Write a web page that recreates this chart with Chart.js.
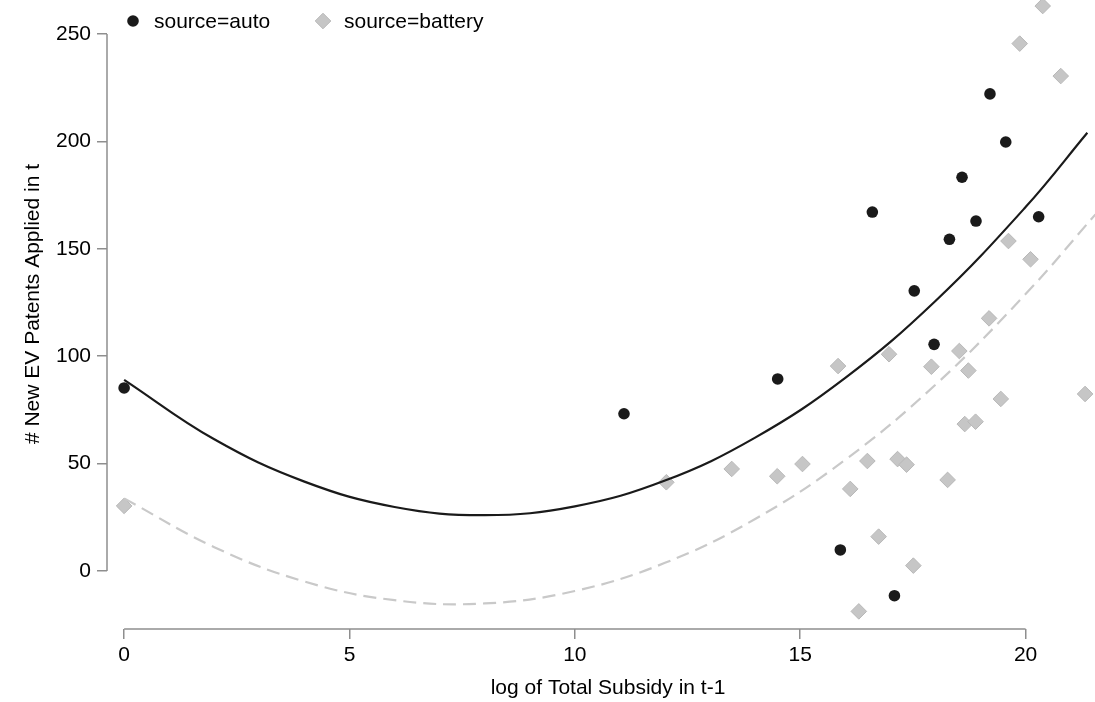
<!DOCTYPE html>
<html>
<head>
<meta charset="utf-8">
<script src="https://cdn.jsdelivr.net/npm/chart.js@4/dist/chart.umd.min.js"></script>
<style>
  html, body { margin: 0; padding: 0; background: #fff; }
  #wrap { width: 1095px; height: 702px; }
</style>
</head>
<body>
<div id="wrap"><canvas id="scatterChart" width="1095" height="702"></canvas></div>
<script>
// points
const autoX = [0, 11.09, 14.5, 15.89, 16.6, 17.09, 17.53, 17.97, 18.31, 18.59, 18.9, 19.21, 19.56, 20.29];
const autoY = [85.2, 73.2, 89.4, 9.8, 167.1, -11.5, 130.4, 105.5, 154.4, 183.3, 162.9, 222.1, 199.7, 164.9];

const batteryX = [0, 12.03, 13.48, 14.49, 15.05, 15.84, 16.11, 16.3, 16.49, 16.74, 16.97, 17.16, 17.36, 17.51,
                  17.91, 18.27, 18.53, 18.65, 18.73, 18.89, 19.19, 19.45, 19.62, 19.87, 20.11, 20.38, 20.78, 21.32];
const batteryY = [30.3, 41.3, 47.5, 44.1, 49.8, 95.4, 38.2, -18.8, 51.2, 16.0, 100.9, 52.1, 49.5, 2.5,
                  95.1, 42.4, 102.4, 68.4, 93.3, 69.5, 117.6, 80.1, 153.6, 245.5, 145.1, 263.0, 230.4, 82.4];

// fitted curves, read at a few x positions
const autoFitX = [0, 2, 4, 6, 8, 10, 12, 14, 16, 18, 20, 21.37];
const autoFitY = [89, 61.3, 41.6, 29.8, 26.0, 30.1, 42.1, 62.1, 89.9, 125.7, 169.4, 204];
const batteryFitX = [0, 2, 4, 6, 8, 10, 12, 14, 16, 18, 20, 21.55];
const batteryFitY = [33.8, 11.1, -4.9, -13.6, -15.1, -9.3, 3.8, 24.2, 51.8, 86.7, 128.9, 166];

const xTicks = [0, 5, 10, 15, 20];
const yTicks = [0, 50, 100, 150, 200, 250];

const legendLabels = ['source=auto', 'source=battery'];
const xTitle = 'log of Total Subsidy in t-1';
const yTitle = '# New EV Patents Applied in t';

const FONT = '21px "Liberation Sans", Arial, sans-serif';
const AXIS_COLOR = '#8e8e8e';
const AUTO_COLOR = '#1a1a1a';
const BATT_FILL = '#c6c6c6';
const BATT_LINE = '#c9c9c9';

function pairs(xs, ys) {
    return xs.map((x, i) => ({ x: x, y: ys[i] }));
}

// Stata-like axes, titles and legend
const decorPlugin = {
    id: 'decor',
    afterDraw(chart) {
        const ctx = chart.ctx;
        const xs = chart.scales.x;
        const ys = chart.scales.y;
        const area = chart.chartArea;
        ctx.save();

        ctx.strokeStyle = AXIS_COLOR;
        ctx.lineWidth = 1.5;
        ctx.beginPath();
        ctx.moveTo(area.left, ys.getPixelForValue(yTicks[0]));
        ctx.lineTo(area.left, ys.getPixelForValue(yTicks[yTicks.length - 1]));
        ctx.moveTo(xs.getPixelForValue(xTicks[0]), area.bottom);
        ctx.lineTo(xs.getPixelForValue(xTicks[xTicks.length - 1]), area.bottom);
        ctx.stroke();

        ctx.fillStyle = '#000';
        ctx.font = FONT;
        ctx.textAlign = 'center';
        ctx.textBaseline = 'middle';
        ctx.fillText(xTitle, 608, 688);

        ctx.save();
        ctx.translate(33, 304);
        ctx.rotate(-Math.PI / 2);
        ctx.fillText(yTitle, 0, 0);
        ctx.restore();

        // legend
        ctx.textAlign = 'left';
        ctx.fillStyle = AUTO_COLOR;
        ctx.beginPath();
        ctx.arc(133, 21, 5.8, 0, Math.PI * 2);
        ctx.fill();
        ctx.fillStyle = '#000';
        ctx.fillText(legendLabels[0], 154, 22);

        ctx.fillStyle = BATT_FILL;
        ctx.strokeStyle = '#b8b8b8';
        ctx.lineWidth = 1;
        ctx.beginPath();
        ctx.moveTo(323, 21 - 7.8);
        ctx.lineTo(323 + 7.8, 21);
        ctx.lineTo(323, 21 + 7.8);
        ctx.lineTo(323 - 7.8, 21);
        ctx.closePath();
        ctx.fill();
        ctx.stroke();
        ctx.fillStyle = '#000';
        ctx.fillText(legendLabels[1], 344, 22);

        ctx.restore();
    }
};

Chart.defaults.font.family = '"Liberation Sans", Arial, sans-serif';
Chart.defaults.font.size = 21;
Chart.defaults.color = '#000';

const ctx = document.getElementById('scatterChart').getContext('2d');

new Chart(ctx, {
    type: 'scatter',
    data: {
        datasets: [
            {
                label: 'auto fit',
                data: pairs(autoFitX, autoFitY),
                showLine: true,
                borderColor: AUTO_COLOR,
                borderWidth: 2.2,
                pointRadius: 0,
                tension: 0.4,
                order: 0
            },
            {
                label: 'battery fit',
                data: pairs(batteryFitX, batteryFitY),
                showLine: true,
                borderColor: BATT_LINE,
                borderWidth: 2.2,
                borderDash: [13, 7],
                pointRadius: 0,
                tension: 0.4,
                order: 1
            },
            {
                label: legendLabels[1],
                data: pairs(batteryX, batteryY),
                pointStyle: 'rectRot',
                pointRadius: 7.8,
                backgroundColor: BATT_FILL,
                borderColor: '#b8b8b8',
                borderWidth: 1,
                order: 2
            },
            {
                label: legendLabels[0],
                data: pairs(autoX, autoY),
                pointStyle: 'circle',
                pointRadius: 5.8,
                backgroundColor: AUTO_COLOR,
                borderColor: AUTO_COLOR,
                borderWidth: 0,
                order: 3
            }
        ]
    },
    options: {
        responsive: false,
        animation: false,
        clip: false,
        layout: { padding: 0, autoPadding: false },
        plugins: {
            legend: { display: false },
            tooltip: { enabled: false }
        },
        scales: {
            x: {
                type: 'linear',
                min: -0.38,
                max: 21.54,
                afterFit: s => {
                    s.height = 73;
                    s.paddingLeft = 0;
                    s.paddingRight = 0;
                },
                afterBuildTicks: s => { s.ticks = xTicks.map(v => ({ value: v })); },
                grid: { drawOnChartArea: false, drawTicks: true, tickLength: 10, color: AXIS_COLOR, lineWidth: 1.5 },
                border: { display: false },
                ticks: { padding: 4, maxRotation: 0, autoSkip: false }
            },
            y: {
                type: 'linear',
                min: -27,
                max: 265.8,
                afterFit: s => {
                    s.width = 107;
                    s.paddingTop = 0;
                    s.paddingBottom = 0;
                },
                afterBuildTicks: s => { s.ticks = yTicks.map(v => ({ value: v })); },
                grid: { drawOnChartArea: false, drawTicks: true, tickLength: 10, color: AXIS_COLOR, lineWidth: 1.5 },
                border: { display: false },
                ticks: { padding: 6, autoSkip: false }
            }
        }
    },
    plugins: [decorPlugin]
});
</script>
</body>
</html>
